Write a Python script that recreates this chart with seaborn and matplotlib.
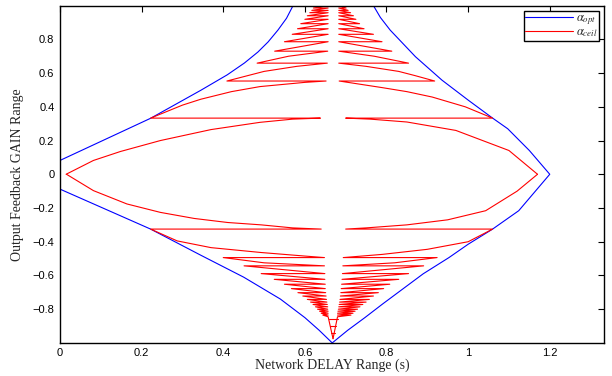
import matplotlib
matplotlib.use('Agg')
import matplotlib.pyplot as plt
import pandas as pd
import seaborn as sns

# alpha_opt boundary (blue)
opt_up_x = [0.0, 0.222, 0.345, 0.41, 0.452, 0.485, 0.51, 0.534, 0.555, 0.571]
opt_up_y = [0.082, 0.332, 0.498, 0.59, 0.66, 0.725, 0.785, 0.855, 0.925, 1.0]
opt_rest_x = [0.768, 0.785, 0.809, 0.871, 0.936, 1.0, 1.06, 1.097, 1.15, 1.2, 1.124, 1.06, 1.0,
              0.953, 0.89, 0.84, 0.79, 0.747, 0.705, 0.667, 0.635, 0.60, 0.54, 0.45, 0.345, 0.222, 0.0]
opt_rest_y = [1.0, 0.93, 0.855, 0.697, 0.558, 0.44, 0.333, 0.27, 0.141, 0.0, -0.216, -0.325, -0.415,
              -0.494, -0.59, -0.68, -0.77, -0.85, -0.925, -1.0, -0.925, -0.85, -0.74, -0.61, -0.48, -0.325, -0.088]

# alpha_ceil (red): lens around zero gain
lens_ul_x = [0.015, 0.082, 0.148, 0.246, 0.37, 0.49, 0.57]
lens_ul_y = [0.0, 0.082, 0.135, 0.20, 0.265, 0.308, 0.327]
lens_ur_x = [1.17, 1.10, 0.97, 0.85, 0.76]
lens_ur_y = [0.0, 0.141, 0.26, 0.31, 0.327]
lens_ll_x = [0.016, 0.082, 0.164, 0.246, 0.329, 0.411, 0.493, 0.57]
lens_ll_y = [0.0, -0.097, -0.176, -0.226, -0.262, -0.286, -0.30, -0.318]
lens_lr_x = [1.17, 1.12, 1.043, 0.95, 0.85, 0.75]
lens_lr_y = [0.0, -0.10, -0.216, -0.27, -0.30, -0.318]

# step levels and where each step ends
up_levels = [0.333, 0.553, 0.659, 0.730, 0.786, 0.830, 0.863, 0.893, 0.919, 0.940, 0.958, 0.972, 0.986, 1.0]
ul_ends = [0.222, 0.409, 0.483, 0.526, 0.550, 0.569, 0.582, 0.590, 0.600, 0.606, 0.612, 0.617, 0.621]
ur_ends = [1.060, 0.918, 0.854, 0.813, 0.789, 0.768, 0.745, 0.734, 0.725, 0.719, 0.712, 0.706, 0.701]
ul_center = [0.638, 0.652, 0.655, 0.656, 0.657, 0.657, 0.657, 0.657, 0.657, 0.657, 0.657, 0.657, 0.657, 0.657]
ur_center = [0.700, 0.684, 0.683, 0.683, 0.683, 0.683, 0.683, 0.683, 0.683, 0.683, 0.683, 0.683, 0.683, 0.683]

low_levels = [-0.325, -0.494, -0.543, -0.589, -0.623, -0.652, -0.678, -0.702, -0.722, -0.742,
              -0.758, -0.772, -0.786, -0.800, -0.812, -0.824, -0.835, -0.845]
ll_ends = [0.222, 0.400, 0.451, 0.493, 0.525, 0.550, 0.567, 0.583, 0.595, 0.606, 0.614, 0.620,
           0.626, 0.631, 0.636, 0.640, 0.644]
lr_ends = [1.060, 0.924, 0.891, 0.854, 0.830, 0.808, 0.793, 0.780, 0.768, 0.758, 0.750, 0.742,
           0.735, 0.729, 0.723, 0.718, 0.713]
ll_center = [0.640, 0.648, 0.648, 0.649, 0.649, 0.650, 0.650, 0.651, 0.652, 0.653, 0.654, 0.655,
             0.656, 0.656, 0.657, 0.657, 0.657, 0.657]
lr_center = [0.700, 0.694, 0.693, 0.692, 0.691, 0.690, 0.689, 0.688, 0.687, 0.686, 0.685, 0.684,
             0.683, 0.682, 0.681, 0.680, 0.680, 0.680]

# bent parts of the first teeth on each side
ul_bends = {0: ([0.30, 0.345, 0.42, 0.49, 0.60], [0.41, 0.445, 0.49, 0.52, 0.545]),
            1: ([0.46, 0.50, 0.58], [0.585, 0.61, 0.64]),
            2: ([0.56], [0.70])}
ur_bends = {0: ([0.993, 0.912, 0.85, 0.789], [0.40, 0.458, 0.49, 0.514]),
            1: ([0.87, 0.83, 0.75], [0.585, 0.61, 0.64]),
            2: ([0.77], [0.70])}
ll_bends = {0: ([0.287, 0.37, 0.493, 0.60], [-0.395, -0.435, -0.464, -0.485]),
            1: ([0.50], [-0.525])}
lr_bends = {0: ([1.0, 0.90, 0.79], [-0.40, -0.445, -0.475]),
            1: ([0.82], [-0.525])}

# funnel at the bottom
tip_x, tip_y = 0.669, -0.975
bar_y = [-0.86, -0.90, -0.94]
bar_l = [0.659, 0.662, 0.665]
bar_r = [0.680, 0.677, 0.673]

xtick_vals = [0, 0.2, 0.4, 0.6, 0.8, 1.0, 1.2]
xtick_labels = ['0', '0.2', '0.4', '0.6', '0.8', '1', '1.2']
ytick_vals = [-0.8, -0.6, -0.4, -0.2, 0, 0.2, 0.4, 0.6, 0.8]
ytick_labels = ['\u22120.8', '\u22120.6', '\u22120.4', '\u22120.2', '0', '0.2', '0.4', '0.6', '0.8']

OPT = r'$\alpha_{opt}$'
CEIL = r'$\alpha_{ceil}$'


def sawtooth(lx, ly, levels, ends, centers, bends):
    xs = list(lx) + [centers[0]]
    ys = list(ly) + [levels[0]]
    for i, e in enumerate(ends):
        xs.append(e)
        ys.append(levels[i])
        if i in bends:
            xs += bends[i][0]
            ys += bends[i][1]
        xs.append(centers[i + 1])
        ys.append(levels[i + 1])
    return xs, ys


rows = []
def add(xs, ys, name, seg):
    for k, (a, b) in enumerate(zip(xs, ys)):
        rows.append({'x': a, 'y': b, 'series': name, 'seg': seg, 'order': k})


add(opt_up_x, opt_up_y, OPT, 'b0')
add(opt_rest_x, opt_rest_y, OPT, 'b1')

x, y = sawtooth(lens_ul_x, lens_ul_y, up_levels, ul_ends, ul_center, ul_bends)
add(x, y, CEIL, 'ul')
x, y = sawtooth(lens_ur_x, lens_ur_y, up_levels, ur_ends, ur_center, ur_bends)
add(x, y, CEIL, 'ur')
x, y = sawtooth(lens_ll_x, lens_ll_y, low_levels, ll_ends, ll_center, ll_bends)
add(x + [tip_x], y + [tip_y], CEIL, 'll')
x, y = sawtooth(lens_lr_x, lens_lr_y, low_levels, lr_ends, lr_center, lr_bends)
add(x + [tip_x], y + [tip_y], CEIL, 'lr')
for i in range(len(bar_y)):
    add([bar_l[i], bar_r[i]], [bar_y[i], bar_y[i]], CEIL, 'bar%d' % i)

df = pd.DataFrame(rows)

sns.set_style('white')
plt.rcParams['font.family'] = ['Liberation Sans', 'DejaVu Sans']
plt.rcParams['mathtext.fontset'] = 'stix'

fig = plt.figure(figsize=(6.12, 3.76), dpi=100)
ax = fig.add_axes([0.098, 0.088, 0.889, 0.897])

sns.lineplot(data=df, x='x', y='y', hue='series', units='seg', estimator=None, sort=False,
             palette={OPT: 'blue', CEIL: 'red'}, linewidth=0.8, ax=ax)

ax.set_xlim(0, 1.333)
ax.set_ylim(-1, 1)
ax.set_xticks(xtick_vals)
ax.set_xticklabels(xtick_labels)
ax.set_yticks(ytick_vals)
ax.set_yticklabels(ytick_labels)
ax.tick_params(direction='in', length=4, width=0.8, top=True, right=True,
               labelsize=8, colors='black', pad=4)
for s in ax.spines.values():
    s.set_color('black')
    s.set_linewidth(1.0)

ax.set_xlabel('Network DELAY Range (s)', family='Liberation Serif', fontsize=10, labelpad=0)
ax.set_ylabel('Output Feedback GAIN Range', family='Liberation Serif', fontsize=10, labelpad=6)

handles, labels = ax.get_legend_handles_labels()
leg = ax.legend(handles, labels, loc='upper right', fontsize=9, frameon=True, fancybox=False,
                framealpha=1, edgecolor='black', handlelength=3.8, borderpad=0.1,
                labelspacing=0.0, handletextpad=0.3, borderaxespad=0.4)
leg.get_frame().set_linewidth(1.0)

fig.savefig('out.png', dpi=100)
